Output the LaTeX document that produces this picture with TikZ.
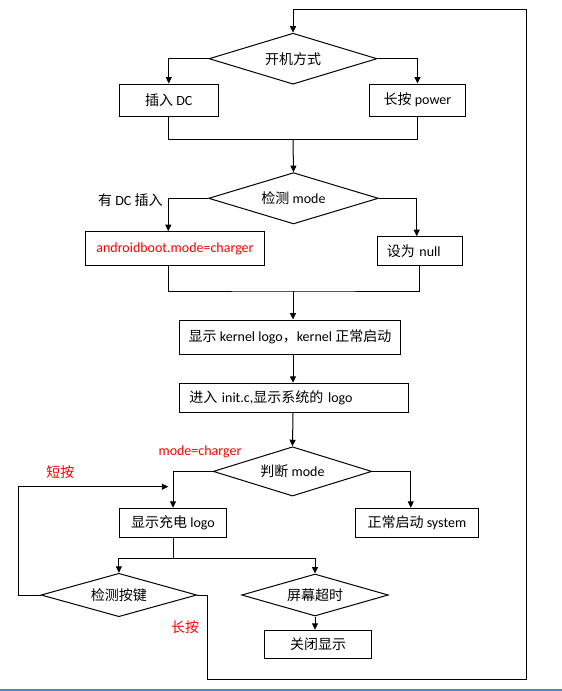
\documentclass[tikz,border=0pt]{standalone}
\usepackage{fontspec}
\setmainfont{Carlito}
\newfontfamily\cjk{Noto Sans CJK SC}
\usetikzlibrary{arrows.meta,calc,shapes.geometric}
\definecolor{pagerule}{RGB}{79,129,189}

\begin{document}
\begin{tikzpicture}[x=1pt,y=-1pt,line width=1pt,>={Triangle[length=6.5pt,width=6pt]},
  every node/.style={font=\fontsize{14}{16}\selectfont},
  box/.style={draw,rectangle,inner sep=0pt},
  choice/.style={draw,diamond,aspect=3.3,inner sep=0pt},
  note/.style={inner sep=0pt}]
  \useasboundingbox (0,0) rectangle (562,691);
  \node[choice,minimum width=168pt,minimum height=51pt] (start) at (293,58.7) {{\cjk 开机方式}};
  \node[box,minimum width=99pt,minimum height=32pt] (plug) at (168.8,100) {{\cjk 插入} DC};
  \node[box,minimum width=96.4pt,minimum height=32pt] (press) at (417.5,100) {{\cjk 长按} power};
  \node[choice,minimum width=169.8pt,minimum height=51.3pt] (mode) at (293.5,198.3) {{\cjk 检测} mode};
  \node[box,text=red,minimum width=178.6pt,minimum height=33.6pt] (charger) at (175,248.5) {androidboot.mode=charger};
  \node[box,text width=66pt,inner xsep=9.5pt,align=left,minimum height=28.6pt] (null) at (419.8,251) {{\cjk 设为} null};
  \node[box,minimum width=221.4pt,minimum height=34pt] (kernel) at (290,337) {{\cjk 显示} kernel logo{\cjk ，}kernel {\cjk 正常启动}};
  \node[box,text width=209pt,inner xsep=10pt,align=left,minimum height=29.4pt] (init) at (293.8,398) {{\cjk 进入} init.c,{\cjk 显示系统的} logo};
  \node[choice,minimum width=158.5pt,minimum height=49.3pt] (judge) at (292.5,471.4) {{\cjk 判断} mode};
  \node[box,minimum width=107.4pt,minimum height=29pt] (chglogo) at (173,522.8) {{\cjk 显示充电} logo};
  \node[box,minimum width=123pt,minimum height=29pt] (system) at (416.9,522.8) {{\cjk 正常启动} system};
  \node[choice,minimum width=155.7pt,minimum height=43.4pt] (key) at (118.9,595) {{\cjk 检测按键}};
  \node[choice,minimum width=146.6pt,minimum height=42pt] (timeout) at (315,595) {{\cjk 屏幕超时}};
  \node[box,minimum width=107.4pt,minimum height=28pt] (off) at (318,644.3) {{\cjk 关闭显示}};
  \node[note,anchor=east] (dclabel) at (163,200.5) {{\cjk 有} DC {\cjk 插入}};
  \node[note,text=red] (chglabel) at (200,451.7) {mode=charger};
  \node[note,text=red] (shortlabel) at (60.3,472.3) {{\cjk 短按}};
  \node[note,text=red] (longlabel) at (185,627.3) {{\cjk 长按}};
  \coordinate (join1) at (293,139.3);
  \coordinate (bend1) at (168.3,198.3);
  \coordinate (bend2) at (416.7,198.3);
  \coordinate (join2) at (293,291);
  \coordinate (bend3) at (410.8,471.4);
  \coordinate (split) at (173,558.3);
  \coordinate (back1) at (18.3,486.7);
  \coordinate (back2) at (168.3,486.7);
  \coordinate (loop1) at (207.3,679);
  \coordinate (loop2) at (526.7,9.3);
  \draw[->] (start.west) -| (plug.north);
  \draw[->] (start.east) -| (press.north);
  \draw (plug.south) |- (join1) -| (press.south);
  \draw[->] (join1) -- (mode.north);
  \draw[->] (mode.west) -- (bend1) -- (bend1 |- charger.north);
  \draw[->] (mode.east) -- (bend2) -- (bend2 |- null.north);
  \draw (bend1 |- charger.south) |- (join2) -| (null.south);
  \draw[->] (join2) -- (join2 |- kernel.north);
  \draw[->] (join2 |- kernel.south) -- (join2 |- init.north);
  \draw[->] (join2 |- init.south) -- (judge.north);
  \draw[->] (judge.west) -| (chglogo.north);
  \draw[->] (judge.east) -- (bend3) -- (bend3 |- system.north);
  \draw (chglogo.south) -- (split);
  \draw[->] (split) -| (key.north);
  \draw[->] (split) -| (timeout.north);
  \draw[->] (timeout.south) -- (timeout.south |- off.north);
  \draw[->] (key.west) -| (back1) -- (back2);
  \draw[->] (key.east) -| (loop1) -| (loop2) -| (start.north);
  \draw[pagerule,line width=1.5pt] (0,690) -- (562,690);
\end{tikzpicture}
\end{document}
